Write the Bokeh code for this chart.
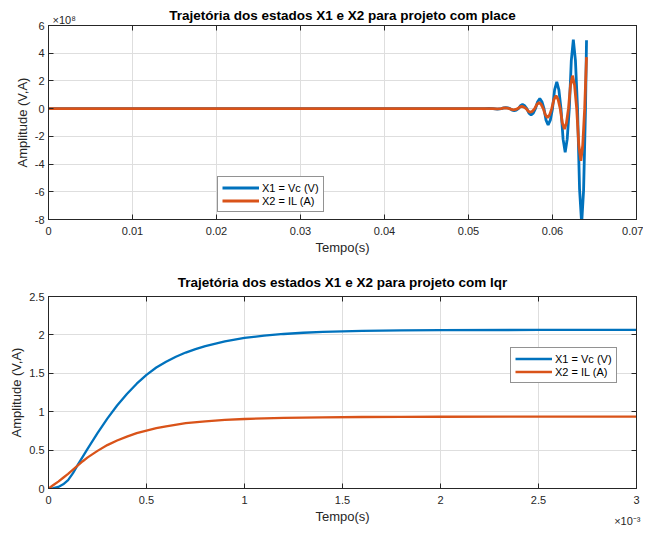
from bokeh.plotting import figure
from bokeh.layouts import column
from bokeh.models import (LinearAxis, FixedTicker, CustomJSTickFormatter, Title,
                          Legend, LegendItem)
from bokeh.embed import file_html
from bokeh.resources import INLINE

# ---------------- data: top chart (place), amplitude in units of 1e8 ----------------
t_x1_place = [0.0, 0.0510, 0.05194, 0.05244, 0.05294, 0.05344, 0.05394, 0.05419, 0.05444,
              0.05469, 0.05494, 0.05519, 0.05544, 0.05569, 0.05594, 0.05618, 0.05643,
              0.05669, 0.05694, 0.05720, 0.05745, 0.05771, 0.05797, 0.05823, 0.05849,
              0.05874, 0.05899, 0.05923, 0.05948, 0.05974, 0.06000, 0.06025, 0.06051,
              0.06076, 0.06101, 0.06126, 0.06151, 0.06175, 0.06200, 0.06224, 0.06248,
              0.06273, 0.06298, 0.06322, 0.06347, 0.06370, 0.06393, 0.06405]
x1_place = [0.0, 0.0, 0.0, 0.02, 0.0, -0.04, 0.0, 0.05, 0.07,
            0.05, 0.0, -0.10, -0.14, -0.10, 0.0, 0.21, 0.30,
            0.21, 0.0, -0.32, -0.45, -0.32, 0.0, 0.50, 0.72,
            0.50, 0.0, -0.83, -1.18, -0.83, 0.0, 1.36, 1.94,
            1.36, 0.0, -2.2, -3.15, -2.2, 0.0, 3.49, 4.98,
            3.49, 0.0, -5.8, -8.3, -5.9, 0.0, 4.94]

t_x2_place = [0.0, 0.0510, 0.05286, 0.05336, 0.05386, 0.05411, 0.05436, 0.05461, 0.05486,
              0.05511, 0.05536, 0.05561, 0.05586, 0.05610, 0.05635, 0.05660, 0.05686,
              0.05711, 0.05736, 0.05762, 0.05788, 0.05814, 0.05840, 0.05865, 0.05890,
              0.05915, 0.05940, 0.05966, 0.05991, 0.06017, 0.06042, 0.06067, 0.06092,
              0.06117, 0.06142, 0.06166, 0.06190, 0.06214, 0.06238, 0.06263, 0.06288,
              0.06313, 0.06338, 0.06360, 0.06383, 0.06405]
x2_place = [0.0, 0.0, 0.0, -0.02, 0.0, 0.035, 0.05, 0.035, 0.0,
            -0.06, -0.09, -0.06, 0.0, 0.11, 0.16, 0.11, 0.0,
            -0.18, -0.26, -0.18, 0.0, 0.31, 0.44, 0.31, 0.0,
            -0.45, -0.64, -0.45, 0.0, 0.66, 0.94, 0.66, 0.0,
            -1.04, -1.48, -1.04, 0.0, 1.67, 2.38, 1.67, 0.0,
            -2.63, -3.76, -2.63, 0.0, 3.72]

# ---------------- data: bottom chart (lqr) ----------------
t_x1_lqr = [0.0, 0.025e-3, 0.05e-3, 0.075e-3, 0.10e-3, 0.125e-3, 0.15e-3, 0.175e-3,
            0.20e-3, 0.25e-3, 0.30e-3, 0.35e-3, 0.40e-3, 0.45e-3, 0.50e-3, 0.55e-3,
            0.60e-3, 0.65e-3, 0.70e-3, 0.75e-3, 0.80e-3, 0.90e-3, 1.00e-3, 1.10e-3,
            1.20e-3, 1.30e-3, 1.40e-3, 1.50e-3, 1.60e-3, 1.80e-3, 2.00e-3, 2.50e-3, 3.00e-3]
x1_lqr = [0.0, 0.005, 0.02, 0.055, 0.11, 0.20, 0.31, 0.415,
          0.52, 0.72, 0.91, 1.08, 1.23, 1.365, 1.48, 1.575,
          1.65, 1.715, 1.77, 1.815, 1.855, 1.915, 1.96, 1.99,
          2.012, 2.028, 2.04, 2.047, 2.052, 2.058, 2.062, 2.065, 2.065]

t_x2_lqr = [0.0, 0.025e-3, 0.05e-3, 0.075e-3, 0.10e-3, 0.125e-3, 0.15e-3, 0.175e-3,
            0.20e-3, 0.25e-3, 0.30e-3, 0.35e-3, 0.40e-3, 0.45e-3, 0.50e-3, 0.55e-3,
            0.60e-3, 0.70e-3, 0.80e-3, 0.90e-3, 1.00e-3, 1.10e-3, 1.20e-3, 1.40e-3,
            1.60e-3, 1.80e-3, 2.00e-3, 2.50e-3, 3.00e-3]
x2_lqr = [0.0, 0.045, 0.09, 0.14, 0.19, 0.245, 0.30, 0.355,
          0.405, 0.49, 0.565, 0.625, 0.675, 0.72, 0.755, 0.785,
          0.81, 0.85, 0.875, 0.893, 0.905, 0.914, 0.92, 0.927,
          0.931, 0.933, 0.934, 0.935, 0.935]

top_xticks = [0, 0.01, 0.02, 0.03, 0.04, 0.05, 0.06, 0.07]
top_yticks = [-8, -6, -4, -2, 0, 2, 4, 6]
bot_xticks = [0, 0.5e-3, 1.0e-3, 1.5e-3, 2.0e-3, 2.5e-3, 3.0e-3]
bot_yticks = [0, 0.5, 1, 1.5, 2, 2.5]

series_labels = ["X1 = Vc (V)", "X2 = IL (A)"]
titles = ["Trajetória dos estados X1 e X2 para projeto com place",
          "Trajetória dos estados X1 e X2 para projeto com lqr"]
exponent_labels = ["×10⁸", "×10⁻³"]

BLUE = "#0072BD"
ORANGE = "#D95319"
DARK = "#262626"
GRID = "#dedede"
FONT = "Liberation Sans"


def style(p, xticks, yticks, xfmt, yfmt, title_standoff):
    p.title.text_font = FONT
    p.title.text_font_size = "13.5px"
    p.title.text_font_style = "bold"
    p.title.text_color = "black"
    p.title.align = "center"
    p.title.vertical_align = "bottom"
    p.title.standoff = title_standoff
    p.outline_line_color = DARK
    p.background_fill_color = "white"
    p.border_fill_color = "white"
    p.xgrid.ticker = FixedTicker(ticks=xticks)
    p.ygrid.ticker = FixedTicker(ticks=yticks)
    p.grid.grid_line_color = GRID
    p.grid.grid_line_width = 1
    for ax in p.xaxis + p.yaxis:
        ax.axis_line_color = DARK
        ax.major_tick_line_color = DARK
        ax.minor_tick_line_color = None
        ax.major_tick_in = 5
        ax.major_tick_out = 0
        ax.major_label_text_font = FONT
        ax.major_label_text_font_size = "11px"
        ax.major_label_text_color = DARK
        ax.axis_label_text_font = FONT
        ax.axis_label_text_font_size = "13px"
        ax.axis_label_text_font_style = "normal"
        ax.axis_label_text_color = DARK
    p.xaxis.ticker = FixedTicker(ticks=xticks)
    p.yaxis.ticker = FixedTicker(ticks=yticks)
    p.xaxis.formatter = xfmt
    p.yaxis.formatter = yfmt
    p.xaxis.major_label_standoff = 7
    p.yaxis.major_label_standoff = 4
    p.xaxis.axis_label_standoff = 2
    p.yaxis.axis_label_standoff = 2
    # box ticks on top and right
    for loc, tk in (("above", xticks), ("right", yticks)):
        a = LinearAxis(ticker=FixedTicker(ticks=tk))
        a.axis_line_color = DARK
        a.major_tick_line_color = DARK
        a.minor_tick_line_color = None
        a.major_tick_in = 5
        a.major_tick_out = 0
        a.major_label_text_font_size = "0px"
        a.major_label_standoff = 0
        a.major_label_text_color = None
        p.add_layout(a, loc)


def add_legend(p, renderers, loc):
    leg = Legend(items=[LegendItem(label=series_labels[i], renderers=[renderers[i]])
                        for i in range(2)],
                 location=loc)
    leg.label_text_font = FONT
    leg.label_text_font_size = "11px"
    leg.label_text_color = "black"
    leg.glyph_width = 37
    leg.glyph_height = 13
    leg.label_height = 13
    leg.label_standoff = 3
    leg.spacing = 0
    leg.padding = 4
    leg.margin = 0
    leg.border_line_color = DARK
    leg.border_line_width = 1
    leg.background_fill_alpha = 1
    p.add_layout(leg)


def exponent(text, align, offset, valign, standoff):
    return Title(text=text, align=align, offset=offset, standoff=standoff,
                 vertical_align=valign, text_font=FONT, text_font_size="11px",
                 text_font_style="normal", text_color=DARK)


# ---------------- top figure ----------------
p1 = figure(width=643, height=257, x_range=(0, 0.07), y_range=(-8, 6),
            output_backend="svg", toolbar_location=None,
            min_border_left=48, min_border_right=7, min_border_top=25, min_border_bottom=38,
            title=titles[0], x_axis_label="Tempo(s)", y_axis_label="Amplitude (V,A)")
style(p1, top_xticks, top_yticks,
      CustomJSTickFormatter(code="return (Math.round(tick*100)/100).toString();"),
      CustomJSTickFormatter(code="return Math.round(tick).toString();"), -18)
r1 = p1.line(t_x1_place, x1_place, line_color=BLUE, line_width=2.8)
r2 = p1.line(t_x2_place, x2_place, line_color=ORANGE, line_width=2.8)
add_legend(p1, [r1, r2], (169, 7))
p1.add_layout(exponent(exponent_labels[0], "left", 4, "middle", -2), "above")

# ---------------- bottom figure ----------------
p2 = figure(width=643, height=269, x_range=(0, 3e-3), y_range=(0, 2.5),
            output_backend="svg", toolbar_location=None,
            min_border_left=48, min_border_right=7, min_border_top=39, min_border_bottom=38,
            title=titles[1], x_axis_label="Tempo(s)", y_axis_label="Amplitude (V,A)")
style(p2, bot_xticks, bot_yticks,
      CustomJSTickFormatter(code="return (Math.round(tick*1e4)/10).toString();"),
      CustomJSTickFormatter(code="return (Math.round(tick*10)/10).toString();"), 13)
r3 = p2.line(t_x1_lqr, x1_lqr, line_color=BLUE, line_width=2.3)
r4 = p2.line(t_x2_lqr, x2_lqr, line_color=ORANGE, line_width=2.3)
add_legend(p2, [r3, r4], (462, 105))
p2.add_layout(exponent(exponent_labels[1], "right", -4, "top", -24), "below")

layout = column(p1, p2, spacing=0)
open("out.html", "w").write(file_html(layout, INLINE))
